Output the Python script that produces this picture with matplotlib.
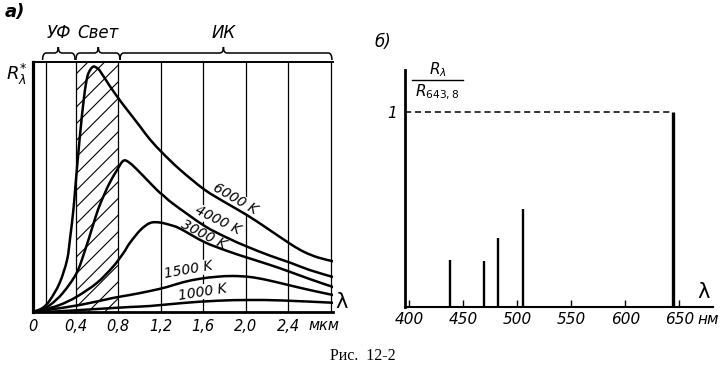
import matplotlib
matplotlib.use('Agg')
import matplotlib.pyplot as plt
from matplotlib.path import Path
from matplotlib.patches import PathPatch

# --- panel a: black body radiation curves (x in mkm, R relative) ---
x_6000 = [0, 0.09, 0.16, 0.25, 0.32, 0.35, 0.38, 0.40, 0.44, 0.48, 0.51, 0.54, 0.57, 0.60, 0.63,
          0.72, 0.82, 0.91, 1.01, 1.10, 1.22, 1.38, 1.61, 1.82, 2.01, 2.20, 2.42, 2.55, 2.68, 2.82]
r_6000 = [0, 0.016, 0.048, 0.116, 0.208, 0.30, 0.41, 0.51, 0.70, 0.86, 0.94, 0.97, 0.982, 0.976, 0.964,
          0.905, 0.845, 0.795, 0.74, 0.69, 0.635, 0.57, 0.49, 0.435, 0.388, 0.335, 0.272, 0.24, 0.218, 0.203]

x_4000 = [0, 0.066, 0.16, 0.28, 0.41, 0.49, 0.55, 0.61, 0.67, 0.72, 0.79, 0.85, 0.91,
          1.01, 1.16, 1.22, 1.32, 1.61, 1.82, 2.01, 2.23, 2.42, 2.60, 2.82]
r_4000 = [0, 0.008, 0.028, 0.076, 0.156, 0.248, 0.328, 0.408, 0.47, 0.516, 0.568, 0.605, 0.596,
          0.556, 0.49, 0.468, 0.432, 0.345, 0.298, 0.262, 0.225, 0.197, 0.168, 0.14]

x_3000 = [0, 0.09, 0.25, 0.41, 0.60, 0.75, 0.85, 0.91, 1.01, 1.10, 1.19, 1.29, 1.38,
          1.61, 1.82, 2.01, 2.23, 2.40, 2.60, 2.82]
r_3000 = [0, 0.008, 0.028, 0.061, 0.116, 0.18, 0.236, 0.276, 0.328, 0.356, 0.358, 0.348, 0.334,
          0.28, 0.245, 0.218, 0.188, 0.163, 0.132, 0.10]

x_1500 = [0, 0.13, 0.44, 0.75, 0.91, 1.10, 1.26, 1.41, 1.57, 1.73, 1.88, 2.04, 2.20, 2.40, 2.60, 2.82]
r_1500 = [0, 0.008, 0.028, 0.056, 0.068, 0.084, 0.10, 0.119, 0.133, 0.141, 0.144, 0.14, 0.128,
          0.108, 0.088, 0.068]

x_1000 = [0, 0.16, 0.60, 0.91, 1.10, 1.41, 1.73, 2.04, 2.35, 2.82]
r_1000 = [0, 0.001, 0.012, 0.02, 0.024, 0.036, 0.045, 0.048, 0.046, 0.037]

curve_labels = ['6000 K', '4000 K', '3000 K', '1500 K', '1000 K']
label_x = [1.90, 1.74, 1.60, 1.46, 1.59]
label_r = [0.452, 0.366, 0.31, 0.168, 0.081]
label_rot = [-30, -26, -27, 10, 9]

grid_a = [0.12, 0.4, 0.8, 1.2, 1.6, 2.0, 2.4, 2.8]
ticks_a = [0, 0.4, 0.8, 1.2, 1.6, 2.0, 2.4]
tick_labels_a = ['0', '0,4', '0,8', '1,2', '1,6', '2,0', '2,4']
visible_band = (0.4, 0.8)
band_names = ['УФ', 'Свет', 'ИК']
band_start = [0.09, 0.404, 0.818]
band_end = [0.395, 0.818, 2.81]
band_mid = [0.238, 0.614, 1.79]

# --- panel b: line spectrum relative to 643.8 nm ---
lines_nm = [438, 469, 482, 505, 643.8]
lines_rel = [0.24, 0.232, 0.35, 0.50, 1.0]
ticks_b = [400, 450, 500, 550, 600, 650]

plt.rcParams['font.family'] = ['DejaVu Sans']
plt.rcParams['mathtext.fontset'] = 'dejavusans'
plt.rcParams['hatch.linewidth'] = 0.8

fig = plt.figure(figsize=(7.22, 3.71), dpi=100)
W, H = 722.0, 371.0


def smooth_path(xs, ys):
    # draw a smooth line through the read points (Catmull-Rom as cubic Beziers)
    pts = list(zip(xs, ys))
    n = len(pts)
    verts = [pts[0]]
    codes = [Path.MOVETO]
    for i in range(n - 1):
        p0 = pts[i - 1] if i > 0 else pts[i]
        p1 = pts[i]
        p2 = pts[i + 1]
        p3 = pts[i + 2] if i + 2 < n else pts[i + 1]
        c1 = (p1[0] + (p2[0] - p0[0]) / 6, p1[1] + (p2[1] - p0[1]) / 6)
        c2 = (p2[0] - (p3[0] - p1[0]) / 6, p2[1] - (p3[1] - p1[1]) / 6)
        verts += [c1, c2, p2]
        codes += [Path.CURVE4] * 3
    return Path(verts, codes)


# ---------------- panel a ----------------
ax = fig.add_axes([33 / W, 59 / H, 300 / W, 250 / H])
ax.set_xlim(0, 2.82)
ax.set_ylim(0, 1)

for g in grid_a:
    ax.axvline(g, color='black', lw=0.9, zorder=1)
ax.axvspan(visible_band[0], visible_band[1], facecolor='none', edgecolor='black',
           hatch='//', lw=0, zorder=1)

curves = [(x_6000, r_6000), (x_4000, r_4000), (x_3000, r_3000), (x_1500, r_1500), (x_1000, r_1000)]
for xs, rs in curves:
    ax.add_patch(PathPatch(smooth_path(xs, rs), facecolor='none', edgecolor='black',
                           lw=1.8, zorder=3, capstyle='round', joinstyle='round'))

for txt, lx, ly, rot in zip(curve_labels, label_x, label_r, label_rot):
    ax.text(lx, ly, txt, rotation=rot, rotation_mode='anchor', ha='center', va='center',
            fontsize=10, fontstyle='italic', zorder=2,
            bbox=dict(facecolor='white', edgecolor='none', pad=0.3))

ax.spines['right'].set_visible(False)
ax.spines['left'].set_linewidth(2.3)
ax.spines['bottom'].set_linewidth(2.0)
ax.spines['top'].set_linewidth(1.4)
ax.set_yticks([])
ax.set_xticks(ticks_a, tick_labels_a, fontsize=10.5, fontstyle='italic')
ax.tick_params(axis='x', length=0, pad=5)
ax.text(2.73, -0.052, 'мкм', fontsize=10.5, fontstyle='italic', ha='center', va='center')
ax.text(2.90, 0.04, 'λ', fontsize=15, ha='center', va='center')
ax.text(-0.15, 0.95, r'$R_{\lambda}^{*}$', fontsize=13, ha='center', va='center')


def brace(ax, x0, x1, xm, y_end=1.008, y_mid=1.036, y_tip=1.06, r=0.035):
    verts = [(x0, y_end), (x0, y_mid), (x0 + r, y_mid),
             (xm - r, y_mid), (xm, y_mid), (xm, y_tip),
             (xm, y_mid), (xm + r, y_mid),
             (x1 - r, y_mid), (x1, y_mid), (x1, y_end)]
    codes = [Path.MOVETO, Path.CURVE3, Path.CURVE3, Path.LINETO, Path.CURVE3, Path.CURVE3,
             Path.CURVE3, Path.CURVE3, Path.LINETO, Path.CURVE3, Path.CURVE3]
    ax.add_patch(PathPatch(Path(verts, codes), facecolor='none', edgecolor='black',
                           lw=1.1, clip_on=False))


for name, b0, b1, bm in zip(band_names, band_start, band_end, band_mid):
    brace(ax, b0, b1, bm)
    ax.text(bm, 1.116, name, fontsize=12, fontstyle='italic', ha='center', va='center')

fig.text(15 / W, 1 - 12 / H, 'а)', fontsize=13, fontstyle='italic', fontweight='bold',
         ha='center', va='center')

# ---------------- panel b ----------------
bx = fig.add_axes([405 / W, 64.3 / H, 308 / W, 236.7 / H])
bx.set_xlim(396, 681)
bx.set_ylim(0, 1.214)
bx.hlines(1, 396, lines_nm[-1], colors='black', lw=1.1, linestyles=(0, (4, 2.5)))
for lam, rel in zip(lines_nm, lines_rel):
    bx.vlines(lam, 0, rel, colors='black', lw=2.4 if rel == 1.0 else 1.7)

for side in ['top', 'right']:
    bx.spines[side].set_visible(False)
bx.spines['left'].set_linewidth(2.0)
bx.spines['bottom'].set_linewidth(1.5)
bx.set_yticks([1], ['1'], fontsize=11, fontstyle='italic')
bx.tick_params(axis='y', length=0, pad=6)
bx.set_xticks(ticks_b, [str(t) for t in ticks_b], fontsize=11, fontstyle='italic')
bx.tick_params(axis='x', direction='in', length=5, width=1, pad=4)
bx.text(666.5, -0.068, 'нм', fontsize=11, fontstyle='italic', ha='left', va='center')
bx.text(672, 0.075, 'λ', fontsize=15, ha='center', va='center')

fig.text(438 / W, 1 - 70 / H, r'$R_{\lambda}$', fontsize=11, ha='center', va='center')
fig.add_artist(plt.Line2D([412 / W, 463 / W], [1 - 80 / H, 1 - 80 / H], color='black', lw=1.0))
fig.text(437 / W, 1 - 92 / H, r'$R_{643,8}$', fontsize=11, ha='center', va='center')
fig.text(383 / W, 1 - 42 / H, 'б)', fontsize=12, fontstyle='italic', ha='center', va='center')

fig.text(363 / W, 1 - 356 / H, 'Рис.  12-2', fontsize=11.5, family='Liberation Serif',
         ha='center', va='center')

fig.savefig('out.png', dpi=100)
